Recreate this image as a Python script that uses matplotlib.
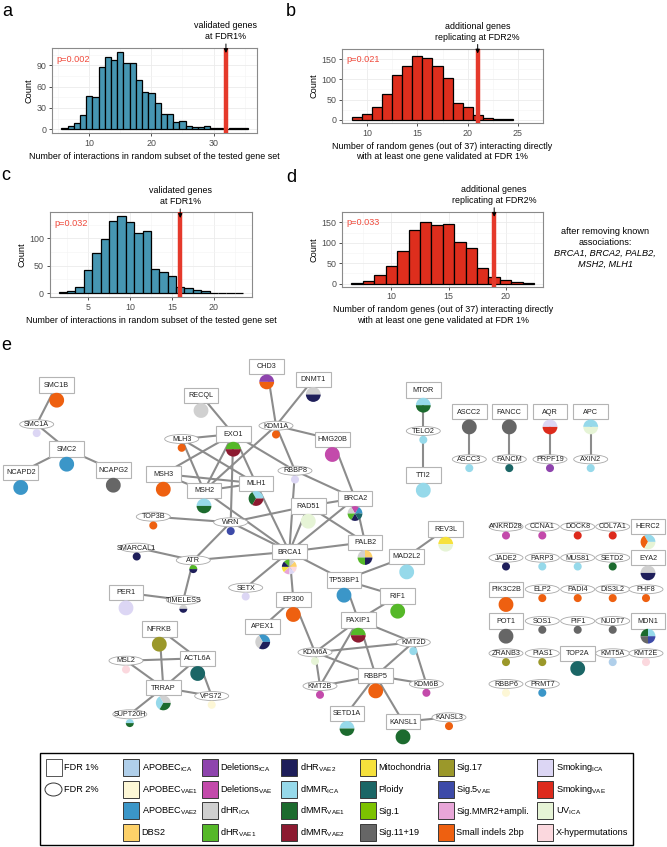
import matplotlib
matplotlib.use('Agg')
import matplotlib.pyplot as plt
from matplotlib.patches import Rectangle, Ellipse, Wedge

plt.rcParams['font.family'] = ['Liberation Sans', 'DejaVu Sans']

W, H = 667, 847

# ------------------------------------------------------------------ data
a_bins = list(range(6, 36))
a_counts = [2, 5, 9, 20, 47, 46, 87, 102, 98, 109, 93, 93, 69, 52, 51, 37, 22, 21,
            10, 11, 5, 3, 3, 4, 1, 1, 0, 1, 1, 1]
a_observed = 32
a_pvalue = "p=0.002"

b_bins = list(range(9, 25))
b_counts = [6, 15, 31, 63, 111, 134, 157, 153, 133, 104, 41, 32, 12, 5, 1, 2]
b_observed = 21
b_pvalue = "p=0.021"

c_bins = list(range(2, 24))
c_counts = [2, 4, 12, 42, 74, 99, 131, 141, 129, 109, 114, 44, 39, 31, 11, 10, 5, 3,
            0, 1, 1, 1]
c_observed = 16
c_pvalue = "p=0.032"

d_bins = list(range(7, 23))
d_counts = [2, 6, 21, 43, 79, 132, 152, 144, 146, 103, 87, 39, 15, 10, 5, 2]
d_observed = 19
d_pvalue = "p=0.033"

a_xticks = [10, 20, 30]
a_yticks = [0, 30, 60, 90]
b_xticks = [10, 15, 20, 25]
b_yticks = [0, 50, 100, 150]
c_xticks = [5, 10, 15, 20]
c_yticks = [0, 50, 100]
d_xticks = [10, 15, 20]
d_yticks = [0, 50, 100, 150]

xlabel_interactions = "Number of interactions in random subset of the tested gene set"
xlabel_random = ("Number of random genes (out of 37) interacting directly\n"
                 "with at least one gene validated at FDR 1%")
note_validated = "validated genes\nat FDR1%"
note_additional = "additional genes\nreplicating at FDR2%"

# signature categories (legend order) and colours
categories = ["APOBEC_ICA", "APOBEC_VAE1", "APOBEC_VAE2", "DBS2",
              "Deletions_ICA", "Deletions_VAE", "dHR_ICA", "dHR_VAE1",
              "dHR_VAE2", "dMMR_ICA", "dMMR_VAE1", "dMMR_VAE2",
              "Mitochondria", "Ploidy", "Sig.1", "Sig.11+19",
              "Sig.17", "Sig.5_VAE", "Sig.MMR2+ampli.", "Small indels 2bp",
              "Smoking_ICA", "Smoking_VAE", "UV_ICA", "X-hypermutations"]
category_colors = ["#b0cfea", "#fdf7d6", "#3b96c8", "#fdd169",
                   "#8e44ad", "#c34aab", "#d0d0d0", "#55b828",
                   "#1e1e5a", "#96d9ea", "#1c6b2e", "#8c1a30",
                   "#f6e13c", "#1b6666", "#7cc200", "#666666",
                   "#9b982a", "#3d4aa8", "#e8a6d8", "#ee6010",
                   "#dcd6f4", "#dd2a1c", "#e6f4d6", "#fbd8de"]

# genes: FDR level and associated signatures
fdr1_genes = ["SMC1B", "SMC2", "NCAPD2", "NCAPG2", "CHD3", "DNMT1", "RECQL", "EXO1",
              "HMG20B", "MSH3", "MLH1", "MSH2", "RAD51", "BRCA2", "PALB2", "REV3L",
              "MAD2L2", "BRCA1", "TP53BP1", "PER1", "RIF1", "EP300", "APEX1",
              "PAXIP1", "NFRKB", "ACTL6A", "RBBP5", "TRRAP", "SETD1A", "KANSL1",
              "MTOR", "TTI2", "ASCC2", "FANCC", "AQR", "APC", "HERC2", "EYA2",
              "PIK3C2B", "POT1", "MDN1", "TOP2A"]
fdr2_genes = ["SMC1A", "KDM1A", "MLH3", "RBBP8", "TOP3B", "WRN", "SMARCAL1", "ATR",
              "SETX", "TIMELESS", "KMT2D", "KDM6A", "MSL2", "KMT2B", "KDM6B", "VPS72",
              "SUPT20H", "KANSL3", "TELO2", "ASCC3", "FANCM", "PRPF19", "AXIN2",
              "ANKRD28", "CCNA1", "DOCK8", "COL7A1", "JADE2", "PARP3", "MUS81",
              "SETD2", "ELP2", "PADI4", "DIS3L2", "PHF8", "SOS1", "PIF1", "NUDT7",
              "ZRANB3", "PIAS1", "KMT5A", "KMT2E", "RBBP6", "PRMT7"]

gene_signatures = {
    "SMC1B": ["Small indels 2bp"], "SMC1A": ["Smoking_ICA"], "SMC2": ["APOBEC_VAE2"],
    "NCAPD2": ["APOBEC_VAE2"], "NCAPG2": ["Sig.11+19"],
    "CHD3": ["Deletions_ICA", "Small indels 2bp"], "DNMT1": ["dHR_ICA", "dHR_VAE2"],
    "RECQL": ["dHR_ICA"], "KDM1A": ["Small indels 2bp"],
    "EXO1": ["dHR_VAE1", "dMMR_VAE2"], "MLH3": ["Small indels 2bp"],
    "HMG20B": ["Deletions_VAE"], "RBBP8": ["Smoking_ICA"], "MSH3": ["Small indels 2bp"],
    "MLH1": ["dMMR_ICA", "dMMR_VAE1", "dMMR_VAE2"], "MSH2": ["dMMR_ICA", "dMMR_VAE1"],
    "RAD51": ["UV_ICA"],
    "BRCA2": ["APOBEC_VAE2", "Deletions_VAE", "dHR_ICA", "dHR_VAE1", "dHR_VAE2", "Ploidy"],
    "TOP3B": ["Small indels 2bp"], "WRN": ["Sig.5_VAE"],
    "PALB2": ["DBS2", "dHR_ICA", "dHR_VAE1", "dHR_VAE2"],
    "REV3L": ["Mitochondria", "UV_ICA"], "MAD2L2": ["dMMR_ICA"],
    "SMARCAL1": ["dHR_VAE2"], "ATR": ["dHR_VAE1", "dHR_VAE2"],
    "BRCA1": ["DBS2", "dHR_ICA", "dHR_VAE1", "dHR_VAE2", "Mitochondria",
              "Sig.MMR2+ampli.", "Smoking_ICA", "X-hypermutations"],
    "TP53BP1": ["APOBEC_VAE2"], "SETX": ["Smoking_ICA"], "PER1": ["Smoking_ICA"],
    "TIMELESS": ["dHR_ICA", "dHR_VAE2"], "RIF1": ["dHR_VAE1"],
    "EP300": ["Small indels 2bp"], "APEX1": ["APOBEC_VAE2", "dHR_ICA", "dHR_VAE2"],
    "PAXIP1": ["dHR_VAE1", "dMMR_VAE2"], "NFRKB": ["Sig.17"], "KMT2D": ["dMMR_ICA"],
    "KDM6A": ["UV_ICA"], "ACTL6A": ["Ploidy"], "MSL2": ["X-hypermutations"],
    "RBBP5": ["Small indels 2bp"], "KMT2B": ["Deletions_VAE"], "KDM6B": ["Deletions_VAE"],
    "TRRAP": ["dHR_ICA", "dMMR_ICA", "dMMR_VAE1"], "VPS72": ["APOBEC_VAE1"],
    "SUPT20H": ["dMMR_ICA", "dMMR_VAE1"], "SETD1A": ["dMMR_ICA", "dMMR_VAE1"],
    "KANSL1": ["dMMR_VAE1"], "KANSL3": ["Small indels 2bp"],
    "MTOR": ["dMMR_ICA", "dMMR_VAE1"], "TELO2": ["dMMR_ICA"], "TTI2": ["dMMR_ICA"],
    "ASCC2": ["Sig.11+19"], "ASCC3": ["dMMR_ICA"], "FANCC": ["Sig.11+19"],
    "FANCM": ["Ploidy"], "AQR": ["Smoking_ICA", "Smoking_VAE"], "PRPF19": ["Deletions_ICA"],
    "APC": ["dMMR_ICA", "UV_ICA"], "AXIN2": ["dMMR_ICA"],
    "ANKRD28": ["Deletions_VAE"], "CCNA1": ["Deletions_VAE"], "DOCK8": ["Smoking_VAE"],
    "COL7A1": ["Smoking_VAE"], "HERC2": ["dMMR_ICA", "Small indels 2bp", "UV_ICA"],
    "JADE2": ["dHR_VAE2"], "PARP3": ["dMMR_ICA"], "MUS81": ["dMMR_ICA"],
    "SETD2": ["dMMR_VAE1"], "EYA2": ["dHR_ICA", "dHR_VAE2"],
    "PIK3C2B": ["Small indels 2bp"], "ELP2": ["Small indels 2bp"],
    "PADI4": ["Small indels 2bp"], "DIS3L2": ["Small indels 2bp"],
    "PHF8": ["Small indels 2bp"], "POT1": ["Sig.11+19"], "SOS1": ["Sig.11+19"],
    "PIF1": ["Sig.11+19"], "NUDT7": ["Sig.11+19"],
    "MDN1": ["dMMR_ICA", "dMMR_VAE1", "Sig.11+19", "Sig.5_VAE"],
    "ZRANB3": ["Sig.17"], "PIAS1": ["Sig.17"], "TOP2A": ["Ploidy"],
    "KMT5A": ["APOBEC_ICA"], "KMT2E": ["X-hypermutations"],
    "RBBP6": ["APOBEC_VAE1"], "PRMT7": ["APOBEC_VAE2"],
}

interactions = [
    ("SMC1B", "SMC1A"), ("SMC1A", "SMC2"), ("SMC2", "NCAPD2"), ("SMC2", "NCAPG2"),
    ("CHD3", "KDM1A"), ("DNMT1", "KDM1A"), ("KDM1A", "HMG20B"), ("KDM1A", "RBBP8"),
    ("KDM1A", "MSH2"), ("RECQL", "EXO1"), ("MLH3", "EXO1"), ("EXO1", "MSH3"),
    ("EXO1", "MSH2"), ("EXO1", "MLH1"), ("EXO1", "WRN"), ("EXO1", "RBBP8"),
    ("RBBP8", "BRCA2"), ("RBBP8", "BRCA1"), ("MLH3", "MLH1"), ("MLH3", "MSH2"),
    ("MSH3", "MSH2"), ("MSH3", "MLH1"), ("MSH2", "MLH1"), ("MSH2", "BRCA1"),
    ("MLH1", "BRCA1"), ("WRN", "BRCA1"), ("WRN", "TOP3B"), ("WRN", "RAD51"),
    ("WRN", "ATR"), ("ATR", "SMARCAL1"), ("ATR", "BRCA1"), ("ATR", "TIMELESS"),
    ("TIMELESS", "PER1"), ("BRCA1", "RAD51"), ("BRCA1", "BRCA2"), ("BRCA1", "PALB2"),
    ("BRCA1", "TP53BP1"), ("BRCA1", "SETX"), ("BRCA1", "EP300"), ("BRCA2", "PALB2"),
    ("RAD51", "BRCA2"), ("RAD51", "PALB2"), ("HMG20B", "BRCA2"), ("MAD2L2", "TP53BP1"),
    ("MAD2L2", "REV3L"), ("TP53BP1", "RIF1"), ("TP53BP1", "PAXIP1"), ("EP300", "APEX1"),
    ("EP300", "KDM6A"), ("RIF1", "PAXIP1"), ("PAXIP1", "KMT2D"), ("PAXIP1", "KDM6A"),
    ("PAXIP1", "KMT2B"), ("PAXIP1", "RBBP5"), ("KDM6A", "KMT2D"), ("KDM6A", "RBBP5"),
    ("KDM6A", "KMT2B"), ("KMT2D", "RBBP5"), ("KMT2D", "KDM6B"), ("RBBP5", "KMT2B"),
    ("RBBP5", "KDM6B"), ("RBBP5", "SETD1A"), ("RBBP5", "KANSL1"), ("KANSL1", "KANSL3"),
    ("MTOR", "TELO2"), ("TELO2", "TTI2"), ("ASCC2", "ASCC3"), ("FANCC", "FANCM"),
    ("AQR", "PRPF19"), ("APC", "AXIN2"), ("NFRKB", "ACTL6A"), ("NFRKB", "TRRAP"),
    ("ACTL6A", "TRRAP"), ("ACTL6A", "VPS72"), ("MSL2", "ACTL6A"), ("MSL2", "TRRAP"),
    ("TRRAP", "SUPT20H"), ("TRRAP", "VPS72"),
]

# ------------------------------------------------------------------ layout (pixels)
LAYOUT = {
    "SMC1B": (56.7, 385), "SMC2": (66.7, 449), "NCAPD2": (20.7, 472.3),
    "NCAPG2": (113.3, 470), "CHD3": (266.7, 366.7), "DNMT1": (313.3, 379.3),
    "RECQL": (201, 395.3), "EXO1": (233.3, 434), "HMG20B": (332.3, 439.3),
    "MSH3": (163.3, 474), "MLH1": (256, 483.3), "MSH2": (204, 490.7),
    "RAD51": (308.3, 506), "BRCA2": (355, 498.3), "PALB2": (365, 542.3),
    "REV3L": (445.7, 529), "MAD2L2": (406.7, 556.7), "BRCA1": (289.3, 551.7),
    "TP53BP1": (344, 580), "PER1": (126, 592.7), "RIF1": (397.7, 596),
    "EP300": (293.3, 599.3), "APEX1": (262.7, 626.7), "PAXIP1": (358.3, 620),
    "NFRKB": (159.3, 629), "ACTL6A": (197.7, 658.3), "RBBP5": (375.7, 675.7),
    "TRRAP": (163.3, 687.7), "SETD1A": (347, 713.3), "KANSL1": (403, 721.7),
    "MTOR": (423.3, 390), "TTI2": (423.3, 475), "ASCC2": (469.3, 411.7),
    "FANCC": (509.3, 411.7), "AQR": (550, 411.7), "APC": (590.7, 411.7),
    "HERC2": (648, 526.7), "EYA2": (648, 557.7), "PIK3C2B": (506, 589.3),
    "POT1": (506, 621), "MDN1": (648, 621), "TOP2A": (577.7, 653.3),
    "SMC1A": (36.7, 424.3), "KDM1A": (276, 425.7), "MLH3": (181.7, 439),
    "RBBP8": (295, 470.7), "TOP3B": (153.3, 516.7), "WRN": (230.7, 522.3),
    "SMARCAL1": (136.7, 547.7), "ATR": (193.3, 560.3), "SETX": (245.7, 587.7),
    "TIMELESS": (183.3, 600), "KMT2D": (413.3, 642.3), "KDM6A": (315, 652.3),
    "MSL2": (126, 660.7), "KMT2B": (320, 686), "KDM6B": (426.4, 684),
    "VPS72": (211.7, 696), "SUPT20H": (129.8, 714.3), "KANSL3": (449, 717.3),
    "TELO2": (423.3, 431), "ASCC3": (469.3, 459.3), "FANCM": (509.3, 459.3),
    "PRPF19": (550, 459.3), "AXIN2": (590.7, 459.3),
    "ANKRD28": (506, 526.7), "CCNA1": (542.3, 526.7), "DOCK8": (577.7, 526.7),
    "COL7A1": (612.7, 526.7),
    "JADE2": (506, 557.7), "PARP3": (542.3, 557.7), "MUS81": (577.7, 557.7),
    "SETD2": (612.7, 557.7),
    "ELP2": (542.3, 589.3), "PADI4": (577.7, 589.3), "DIS3L2": (612.7, 589.3),
    "PHF8": (646, 589.3),
    "SOS1": (542.3, 621), "PIF1": (577.7, 621), "NUDT7": (612.7, 621),
    "ZRANB3": (506, 653.3), "PIAS1": (542.3, 653.3), "KMT5A": (612.7, 653.3),
    "KMT2E": (646, 653.3),
    "RBBP6": (506, 684), "PRMT7": (542.3, 684),
}

color_of = dict(zip(categories, category_colors))

fig = plt.figure(figsize=(W / 100, H / 100), dpi=100)
fig.patch.set_facecolor("white")


def px_axes(l, t, r, b, **kw):
    return fig.add_axes([l / W, 1 - b / H, (r - l) / W, (b - t) / H], **kw)


TEAL = "#4696b2"
RED = "#de2e1d"
REDLINE = "#e5392b"


def hist_panel(rect, bins, counts, observed, color, xticks, yticks, xlabel, note,
               pvalue, tip_px):
    ax = px_axes(*rect)
    ax.bar(bins, counts, width=1.0, color=color, edgecolor="black", linewidth=0.9,
           zorder=2)
    lo = min(min(bins) - 0.5, observed)
    hi = max(max(bins) + 0.5, observed)
    pad = 0.05 * (hi - lo)
    ax.set_xlim(lo - pad, hi + pad)
    top = max(counts)
    ax.set_ylim(-0.05 * top, 1.05 * top)
    ax.axvline(observed, color=REDLINE, lw=3.2, zorder=3)
    ax.set_xticks(xticks)
    ax.set_yticks(yticks)
    sx = xticks[1] - xticks[0]
    sy = yticks[1] - yticks[0]
    ax.set_xticks([t - sx / 2 for t in xticks] + [xticks[-1] + sx / 2], minor=True)
    ax.set_yticks([t + sy / 2 for t in yticks], minor=True)
    ax.grid(which="major", color="#ebebeb", lw=0.6)
    ax.grid(which="minor", color="#f4f4f4", lw=0.4)
    ax.set_axisbelow(True)
    ax.tick_params(which="minor", length=0)
    ax.tick_params(which="major", length=2.5, width=0.6, color="#333333",
                   labelsize=6.4, labelcolor="#4d4d4d", pad=1.5)
    for s in ax.spines.values():
        s.set_color("#8a8a8a")
        s.set_linewidth(0.8)
    ax.set_ylabel("Count", fontsize=6.6, labelpad=2)
    ax.set_xlabel(xlabel, fontsize=6.4, labelpad=3, linespacing=1.25)
    ax.text(0.022, 0.86, pvalue, transform=ax.transAxes, color="#f04a3c",
            fontsize=6.6, ha="left", va="center")
    hpx = rect[3] - rect[1]
    ax.annotate(note, xy=(observed, 1 - tip_px / hpx),
                xycoords=("data", "axes fraction"), xytext=(0, 8.5),
                textcoords="offset points", ha="center", va="bottom",
                fontsize=6.4, linespacing=1.25,
                arrowprops=dict(arrowstyle="-|>", color="black", lw=0.7,
                                mutation_scale=6, shrinkA=0, shrinkB=0))
    return ax


hist_panel((52, 48, 257, 133), a_bins, a_counts, a_observed, TEAL, a_xticks, a_yticks,
           xlabel_interactions, note_validated, a_pvalue, 5)
hist_panel((342, 49, 543, 123), b_bins, b_counts, b_observed, RED, b_xticks, b_yticks,
           xlabel_random, note_additional, b_pvalue, 4.5)
hist_panel((49.5, 212, 252.3, 297), c_bins, c_counts, c_observed, TEAL, c_xticks,
           c_yticks, xlabel_interactions, note_validated, c_pvalue, 6)
hist_panel((342.3, 212.3, 543.3, 286.7), d_bins, d_counts, d_observed, RED, d_xticks,
           d_yticks, xlabel_random, note_additional, d_pvalue, 4.5)

# ------------------------------------------------------------------ overlay canvas (pixels)
ov = fig.add_axes([0, 0, 1, 1])
ov.set_xlim(0, W)
ov.set_ylim(H, 0)
ov.axis("off")
ov.patch.set_alpha(0)

for letter, (x, y) in zip("abcde", [(7, 12), (291, 11), (6, 176), (291, 177), (6, 346)]):
    ov.text(x, y, letter, fontsize=13, ha="center", va="center")

ov.text(605, 237, "after removing known\nassociations:", fontsize=6.6, ha="center",
        va="center", linespacing=1.3)
ov.text(605, 258.7, "BRCA1, BRCA2, PALB2,\nMSH2, MLH1", fontsize=6.6, ha="center",
        va="center", style="italic", linespacing=1.3)

# ------------------------------------------------------------------ network
fdr1 = set(fdr1_genes)
BOX_W, BOX_H = 34.5, 15.5
ELL_W, ELL_H = 34, 9


def node_center(g):
    return LAYOUT[g]


for g1, g2 in interactions:
    x1, y1 = node_center(g1)
    x2, y2 = node_center(g2)
    ov.plot([x1, x2], [y1, y2], color="#8c8c8c", lw=1.5, zorder=1,
            solid_capstyle="butt")


def draw_pie(cx, cy, r, cats):
    n = len(cats)
    step = 360.0 / n
    for i, c in enumerate(cats):
        a1, a2 = i * step, (i + 1) * step  # screen angles, counter-clockwise from 3 o'clock
        ov.add_patch(Wedge((cx, cy), r, -a2, -a1, facecolor=color_of[c],
                           edgecolor="none", zorder=3))


for g in fdr1_genes + fdr2_genes:
    x, y = LAYOUT[g]
    if g in fdr1:
        ov.add_patch(Rectangle((x - BOX_W / 2, y - BOX_H / 2), BOX_W, BOX_H,
                               facecolor="white", edgecolor="#b4b4b4", lw=0.8, zorder=2))
        draw_pie(x, y + 15.2, 7.4, gene_signatures[g])
    else:
        ov.add_patch(Ellipse((x, y), ELL_W, ELL_H, facecolor="white",
                             edgecolor="#a8a8a8", lw=0.6, zorder=2))
        draw_pie(x, y + 8.8, 4.0, gene_signatures[g])
    ov.text(x, y + 0.3, g, fontsize=5.2, ha="center", va="center", color="#222222",
            zorder=4)

# ------------------------------------------------------------------ legend
ov.add_patch(Rectangle((40.4, 753), 592.2, 92.5, facecolor="white", edgecolor="black",
                       lw=1.0, zorder=1))
rows = [768, 789.5, 811, 832.5]
ov.add_patch(Rectangle((45.5, rows[0] - 8.5), 16, 17, facecolor="white",
                       edgecolor="#555555", lw=0.7, zorder=2))
ov.text(64, rows[0], "FDR 1%", fontsize=6.6, va="center", ha="left")
ov.add_patch(Ellipse((53.5, rows[1]), 17, 13, facecolor="white", edgecolor="#333333",
                     lw=0.7, zorder=2))
ov.text(64, rows[1], "FDR 2%", fontsize=6.6, va="center", ha="left")

col_x = [123, 202, 281, 360, 438, 537]
for i, (cat, col) in enumerate(zip(categories, category_colors)):
    cx = col_x[i // 4]
    cy = rows[i % 4]
    ov.add_patch(Rectangle((cx, cy - 8.5), 16, 17, facecolor=col, edgecolor="#3a3a3a",
                           lw=0.7, zorder=2))
    if "_" in cat:
        main, sub = cat.split("_")
        label = main + r"$_{\mathregular{" + sub + "}}$"
    else:
        label = cat
    ov.text(cx + 18.5, cy, label, fontsize=6.6, va="center", ha="left")

fig.savefig("out.png", dpi=100)
